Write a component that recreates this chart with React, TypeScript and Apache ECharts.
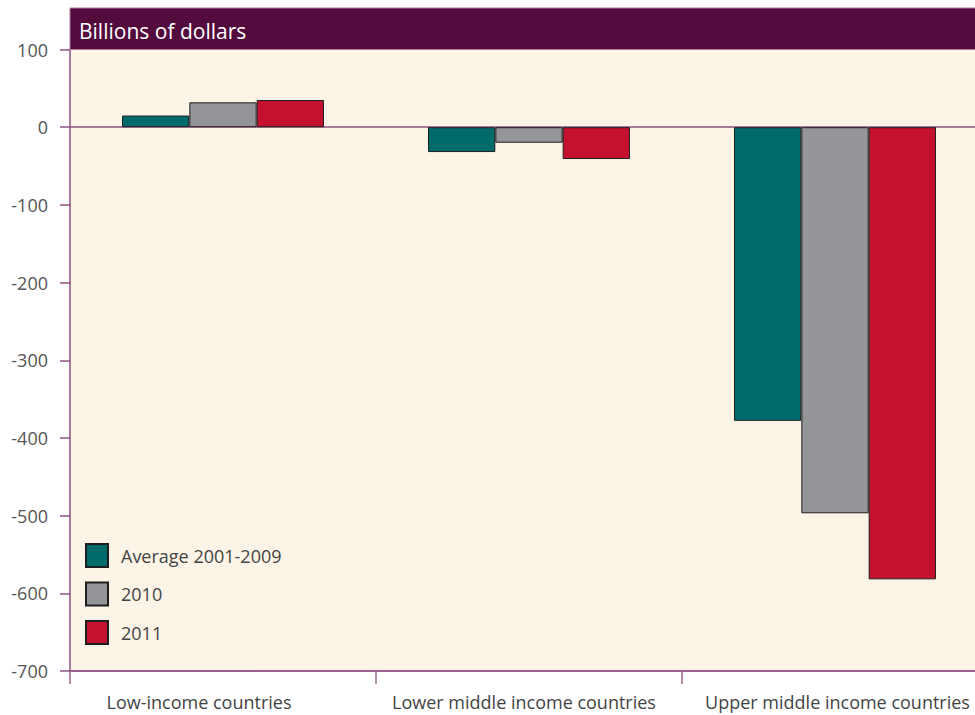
import React, { useEffect, useRef } from "react";
import * as echarts from "echarts";

const categories = ["Low-income countries", "Lower middle income countries", "Upper middle income countries"];
const seriesNames = ["Average 2001-2009", "2010", "2011"];
const avg2001_2009 = [15, -32, -378];
const y2010 = [32, -20, -497];
const y2011 = [35, -41, -582];
const colors = ["#006B6B", "#939598", "#C3112F"];
const yMin = -700;
const yMax = 100;
const yInterval = 100;
const unitLabel = "Billions of dollars";

const FONT = "'Open Sans', 'Noto Sans', sans-serif";
// label horizontal nudges (px), layout only
const labelPads = [
  [0, 48, 0, 0],
  [0, 10, 0, 0],
  [0, 0, 0, 5],
];

export default function App() {
  const ref = useRef<HTMLDivElement>(null);
  useEffect(() => {
    if (!ref.current) return;
    const chart = echarts.init(ref.current, undefined, { renderer: "svg" });
    const values = [avg2001_2009, y2010, y2011];
    chart.setOption({
      animation: false,
      backgroundColor: "#ffffff",
      textStyle: { fontFamily: FONT },
      grid: { left: 70, top: 49.5, width: 918, height: 621.5, backgroundColor: "#FCF4E6", show: true, borderWidth: 0 },
      legend: {
        orient: "vertical",
        left: 85,
        top: 543,
        padding: 0,
        itemWidth: 22,
        itemHeight: 23,
        itemGap: 13.5,
        icon: "rect",
        data: seriesNames,
        textStyle: { fontSize: 18, color: "#444", fontFamily: FONT, padding: [0, 0, 0, 8] },
      },
      graphic: [
        {
          type: "rect",
          shape: { x: 70, y: 8, width: 940, height: 41.5 },
          style: { fill: "#530A3D", stroke: "#A77C9A", lineWidth: 1 },
          z: 10,
        },
        {
          type: "text",
          x: 79,
          y: 31,
          style: { text: unitLabel, fill: "#ffffff", fontSize: 21, fontFamily: FONT, verticalAlign: "middle" },
          z: 11,
        },
      ],
      xAxis: {
        type: "category",
        data: categories.map((c, i) => ({ value: c, textStyle: { padding: labelPads[i] } })),
        axisLine: { onZero: false, lineStyle: { color: "#7B2D6B", width: 1.5 } },
        axisTick: { show: true, length: 13, lineStyle: { color: "#9A6A8E", width: 1.5 } },
        axisLabel: { interval: 0, fontSize: 18, color: "#444", margin: 22, fontFamily: FONT },
        splitLine: { show: false },
      },
      yAxis: {
        type: "value",
        min: yMin,
        max: yMax,
        interval: yInterval,
        axisLine: { show: true, lineStyle: { color: "#8E5282", width: 1.5 } },
        axisTick: { show: true, length: 10, lineStyle: { color: "#8E5282", width: 1.5 } },
        axisLabel: { fontSize: 18, color: "#555", margin: 22, fontFamily: FONT },
        splitLine: { show: false },
      },
      series: seriesNames.map((name, i) => ({
        name,
        type: "bar",
        data: values[i],
        barGap: "0%",
        barCategoryGap: "34%",
        itemStyle: { color: colors[i], borderColor: "#1e1e1e", borderWidth: 1 },
        z: 3,
        ...(i === 0
          ? {
              markLine: {
                silent: true,
                symbol: ["none", "none"],
                label: { show: false },
                lineStyle: { color: "#8E4F80", width: 1.5, type: "solid" },
                data: [{ yAxis: 0 }],
                z: 1,
              },
            }
          : {}),
      })),
    });
    return () => chart.dispose();
  }, []);
  return (
    <div style={{ width: 975, height: 715, position: "absolute", left: 0, top: 0, overflow: "hidden" }}>
      <div ref={ref} style={{ width: 1010, height: 715 }} />
    </div>
  );
}
